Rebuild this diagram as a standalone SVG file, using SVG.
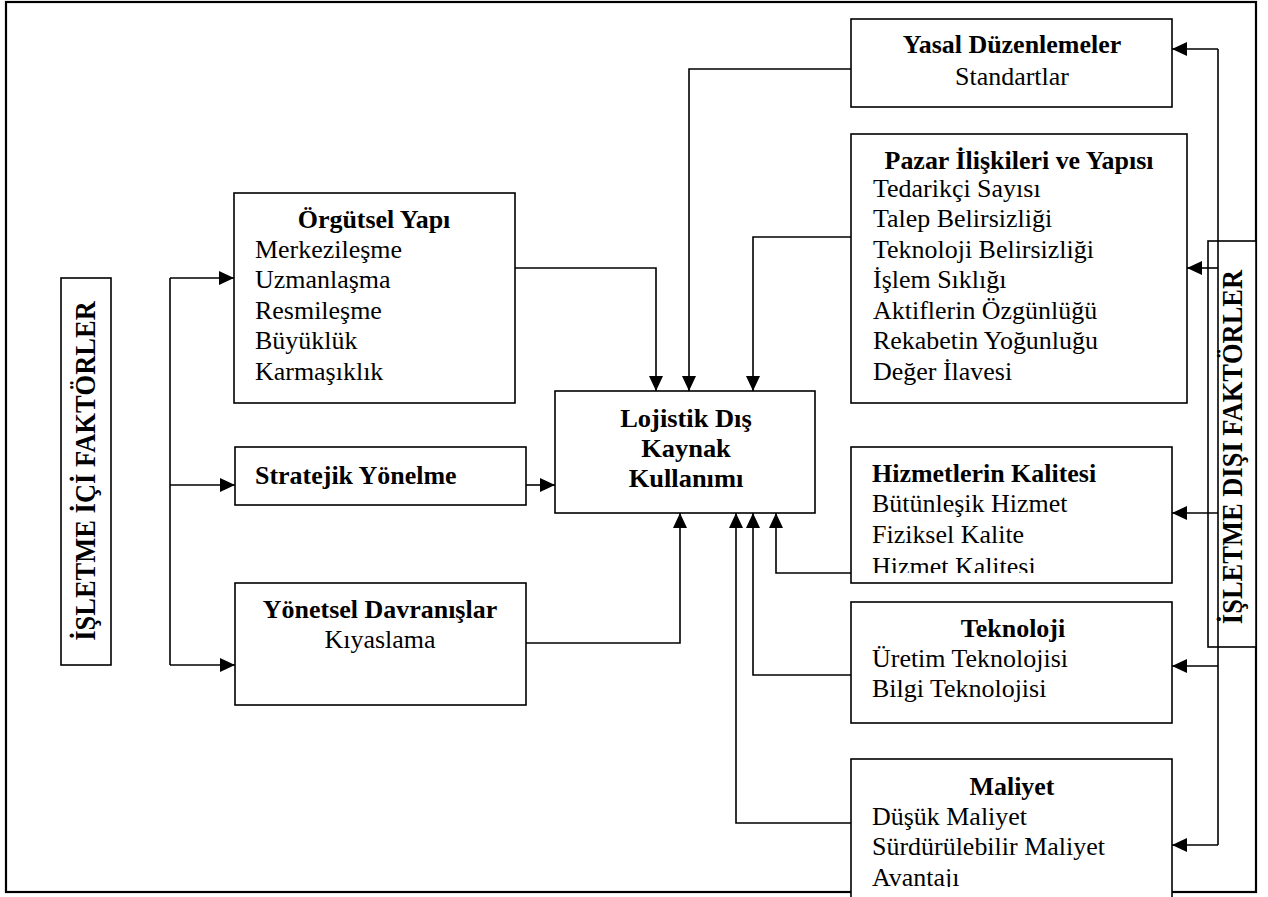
<svg xmlns="http://www.w3.org/2000/svg" width="1268" height="897" viewBox="0 0 1268 897">
  <style>
    .box { fill: #fff; stroke: #000; stroke-width: 1.6; }
    .frame { fill: none; stroke: #000; stroke-width: 2.2; }
    .r { font-family: "Liberation Serif", "Times New Roman", serif; font-size: 24.5px; fill: #000; }
    .b { font-family: "Liberation Serif", "Times New Roman", serif; font-size: 24.5px; font-weight: bold; fill: #000; }
    .big { font-family: "Liberation Serif", "Times New Roman", serif; font-size: 24.5px; font-weight: bold; fill: #000; }
    .side { font-family: "Liberation Serif", "Times New Roman", serif; font-size: 26.5px; font-weight: bold; fill: #000; }
    .mid { text-anchor: middle; }
    .wire { fill: none; stroke: #000; stroke-width: 1.6; }
    .arrow { fill: none; stroke: #000; stroke-width: 1.6; marker-end: url(#head); }
  </style>
  <defs>
    <marker id="head" markerUnits="userSpaceOnUse" markerWidth="16" markerHeight="14" refX="15" refY="7" orient="auto">
      <path d="M0,0 L15,7 L0,14 Z" fill="#000"/>
    </marker>
    <clipPath id="clipHizmet"><rect x="851" y="447" width="321" height="126"/></clipPath>
    <clipPath id="clipMaliyet"><rect x="851" y="759" width="321" height="128"/></clipPath>
  </defs>

  <rect width="1268" height="897" fill="#fff"/>
  <!-- outer frame -->
  <rect class="frame" x="6" y="2" width="1250" height="890"/>

  <!-- internal factors label -->
  <g id="isletme-ici">
    <rect class="box" x="61" y="278" width="50" height="387"/>
    <text class="side mid" transform="translate(95 471) scale(1.15 1) rotate(-90)">İŞLETME İÇİ FAKTÖRLER</text>
  </g>

  <g id="orgutsel-yapi">
    <rect class="box" x="234" y="193" width="281" height="210"/>
    <g transform="translate(374 0) scale(1.06 1)"><text class="b mid" y="228">Örgütsel Yapı</text></g>
    <g transform="translate(255 0) scale(1.06 1)">
      <text class="r" y="258">Merkezileşme</text>
      <text class="r" y="288.5">Uzmanlaşma</text>
      <text class="r" y="319">Resmileşme</text>
      <text class="r" y="349.5">Büyüklük</text>
      <text class="r" y="380">Karmaşıklık</text>
    </g>
  </g>

  <g id="stratejik-yonelme">
    <rect class="box" x="235" y="447" width="291" height="58"/>
    <g transform="translate(255 0) scale(1.06 1)"><text class="b" y="484">Stratejik Yönelme</text></g>
  </g>

  <g id="yonetsel-davranislar">
    <rect class="box" x="235" y="583" width="291" height="122"/>
    <g transform="translate(380 0) scale(1.06 1)">
      <text class="b mid" y="618">Yönetsel Davranışlar</text>
      <text class="r mid" y="648">Kıyaslama</text>
    </g>
  </g>

  <g id="lojistik">
    <rect class="box" x="555" y="391" width="260" height="122"/>
    <g transform="translate(686 0) scale(1.08 1)">
      <text class="big mid" y="427">Lojistik Dış</text>
      <text class="big mid" y="457">Kaynak</text>
      <text class="big mid" y="487">Kullanımı</text>
    </g>
  </g>

  <g id="yasal-duzenlemeler">
    <rect class="box" x="851" y="19" width="321" height="88"/>
    <g transform="translate(1012 0) scale(1.06 1)">
      <text class="b mid" y="53">Yasal Düzenlemeler</text>
      <text class="r mid" y="85">Standartlar</text>
    </g>
  </g>

  <g id="pazar-iliskileri">
    <rect class="box" x="851" y="134" width="336" height="269"/>
    <g transform="translate(1019 0) scale(1.06 1)"><text class="b mid" y="169">Pazar İlişkileri ve Yapısı</text></g>
    <g transform="translate(873 0) scale(1.06 1)">
      <text class="r" y="197">Tedarikçi Sayısı</text>
      <text class="r" y="227.5">Talep Belirsizliği</text>
      <text class="r" y="258">Teknoloji Belirsizliği</text>
      <text class="r" y="288.5">İşlem Sıklığı</text>
      <text class="r" y="319">Aktiflerin Özgünlüğü</text>
      <text class="r" y="349.5">Rekabetin Yoğunluğu</text>
      <text class="r" y="380">Değer İlavesi</text>
    </g>
  </g>

  <g id="hizmet-kalitesi">
    <rect class="box" x="851" y="447" width="321" height="136"/>
    <g clip-path="url(#clipHizmet)">
      <g transform="translate(872 0) scale(1.06 1)">
        <text class="b" y="482">Hizmetlerin Kalitesi</text>
        <text class="r" y="512">Bütünleşik Hizmet</text>
        <text class="r" y="543">Fiziksel Kalite</text>
        <text class="r" y="575">Hizmet Kalitesi</text>
      </g>
    </g>
  </g>

  <g id="teknoloji">
    <rect class="box" x="851" y="602" width="321" height="121"/>
    <g transform="translate(1013 0) scale(1.06 1)"><text class="b mid" y="637">Teknoloji</text></g>
    <g transform="translate(872 0) scale(1.06 1)">
      <text class="r" y="667">Üretim Teknolojisi</text>
      <text class="r" y="697">Bilgi Teknolojisi</text>
    </g>
  </g>

  <g id="maliyet">
    <rect class="box" x="851" y="759" width="321" height="150"/>
    <g clip-path="url(#clipMaliyet)">
      <g transform="translate(1012 0) scale(1.06 1)"><text class="b mid" y="795">Maliyet</text></g>
      <g transform="translate(872 0) scale(1.06 1)">
        <text class="r" y="825">Düşük Maliyet</text>
        <text class="r" y="855">Sürdürülebilir Maliyet</text>
        <text class="r" y="886">Avantajı</text>
      </g>
    </g>
  </g>

  <!-- external factors label -->
  <g id="isletme-disi">
    <rect class="box" x="1208" y="241" width="48" height="406"/>
    <text class="side mid" transform="translate(1242 447) scale(1.15 1) rotate(-90)">İŞLETME DIŞI FAKTÖRLER</text>
  </g>

  <g id="connectors">
    <!-- internal factors fan out -->
    <path class="wire" d="M170 278 V665"/>
    <path class="arrow" d="M170 278 H234"/>
    <path class="arrow" d="M170 485 H235"/>
    <path class="arrow" d="M170 665 H235"/>
    <!-- into Lojistik from above -->
    <path class="arrow" d="M515 268 H656 V391"/>
    <path class="arrow" d="M851 69 H689 V391"/>
    <path class="arrow" d="M851 237 H753 V391"/>
    <!-- into Lojistik from the side -->
    <path class="arrow" d="M526 485 H555"/>
    <!-- into Lojistik from below -->
    <path class="arrow" d="M526 643 H680 V513"/>
    <path class="arrow" d="M851 573 H776 V513"/>
    <path class="arrow" d="M851 675 H753 V513"/>
    <path class="arrow" d="M851 823 H736 V513"/>
    <!-- external factors bus -->
    <path class="wire" d="M1218 49 V845"/>
    <path class="arrow" d="M1218 49 H1172"/>
    <path class="arrow" d="M1218 268 H1187"/>
    <path class="arrow" d="M1218 513 H1172"/>
    <path class="arrow" d="M1218 666 H1172"/>
    <path class="arrow" d="M1218 845 H1172"/>
  </g>
</svg>
